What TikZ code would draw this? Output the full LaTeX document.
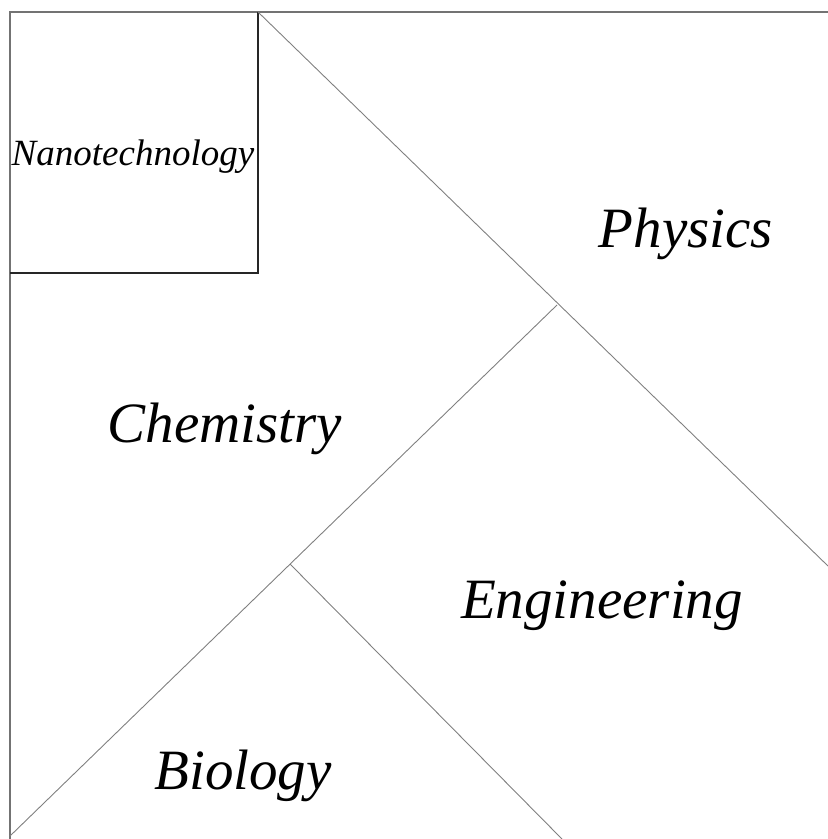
\documentclass[tikz,border=0pt]{standalone}
\usepackage{fontspec}
\setmainfont{Liberation Serif}
\usetikzlibrary{positioning}
\tikzset{
    frame/.style={draw=black!55,line width=0.6pt},
    box/.style={draw=black!85,line width=0.6pt},
    part/.style={draw=black!50,line width=0.45pt},
    field/.style={font=\fontsize{28.5}{32}\selectfont\itshape,anchor=base,inner sep=0pt},
    small/.style={field,font=\fontsize{18.5}{20}\selectfont\itshape},
}
\begin{document}
\begin{tikzpicture}[x=0.5pt,y=-0.5pt]
\useasboundingbox (0,0) rectangle (828,839);
% corners and meeting points
\coordinate (TL) at (10,12);
\coordinate (TR) at (828,12);
\coordinate (BL) at (10,839);
\coordinate (NE) at (258,12);
\coordinate (NS) at (258,273);
\coordinate (NW) at (10,273);
\coordinate (RE) at (828,566);
\coordinate (J)  at (557,305);
\coordinate (LB) at (10,836);
\coordinate (A)  at (290,564);
\coordinate (BB) at (562,839);

\draw[frame] (TR) -- (TL) -- (BL);
\draw[box] (NE) -- (NS) -- (NW);
\draw[part] (NE) -- (RE);
\draw[part] (J) -- (LB);
\draw[part] (A) -- (BB);

\node[small] (nano) at (133,166) {Nanotechnology};
\node[field] (phys) at (686,248) {Physics};
\node[field] (chem) at (225,442) {Chemistry};
\node[field] (engi) at (602,618) {Engineering};
\node[field] (biol) at (243,789) {Biology};
\end{tikzpicture}
\end{document}
